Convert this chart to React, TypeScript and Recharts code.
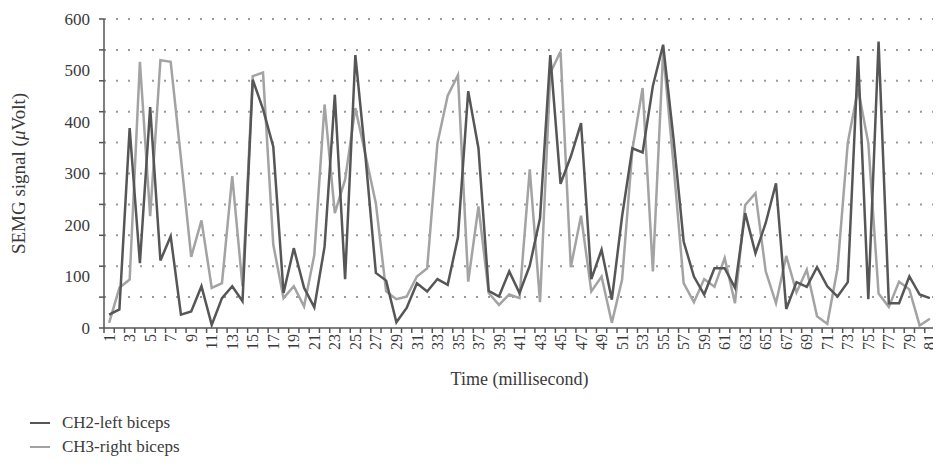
import { LineChart, Line, XAxis, YAxis, CartesianGrid, Legend } from "recharts"

const times = [
  1, 2, 3, 4, 5, 6, 7, 8, 9, 10, 11, 12, 13, 14, 15, 16, 17, 18, 19, 20,
  21, 22, 23, 24, 25, 26, 27, 28, 29, 30, 31, 32, 33, 34, 35, 36, 37, 38, 39, 40,
  41, 42, 43, 44, 45, 46, 47, 48, 49, 50, 51, 52, 53, 54, 55, 56, 57, 58, 59, 60,
  61, 62, 63, 64, 65, 66, 67, 68, 69, 70, 71, 72, 73, 74, 75, 76, 77, 78, 79, 80, 81,
]

// CH2-left biceps
const ch2 = [
  26, 36, 388, 126, 429, 131, 178, 26, 32, 81, 6, 58, 81, 52, 482, 425, 352, 68, 155, 78,
  40, 158, 453, 95, 530, 330, 107, 92, 11, 39, 87, 71, 95, 84, 176, 460, 349, 72, 61, 110,
  68, 121, 213, 530, 280, 333, 398, 95, 152, 55, 217, 349, 341, 470, 550, 370, 168, 100, 65, 116,
  116, 78, 223, 145, 204, 281, 37, 89, 80, 118, 81, 61, 89, 528, 56, 556, 48, 48, 100, 65, 58,
]

// CH3-right biceps
const ch3 = [
  10, 78, 94, 517, 217, 520, 517, 330, 138, 209, 78, 87, 295, 81, 489, 496, 162, 58, 81, 42,
  142, 434, 223, 288, 427, 335, 242, 71, 56, 61, 100, 116, 359, 451, 491, 90, 236, 68, 45, 65,
  58, 308, 50, 495, 537, 118, 218, 71, 100, 10, 94, 346, 466, 110, 537, 320, 87, 50, 95, 80,
  136, 48, 239, 262, 110, 48, 140, 69, 113, 23, 8, 116, 360, 464, 359, 67, 41, 90, 75, 5, 18,
]

const yLabels = [0, 100, 200, 300, 400, 500, 600]
const yMarks = [0, 60, 120, 180, 240, 300, 360, 420, 480, 540, 600]

const series = [
  { key: "ch2", name: "CH2-left biceps", color: "#565656" },
  { key: "ch3", name: "CH3-right biceps", color: "#a3a3a3" },
]

const data = times.map((t, i) => ({ t, ch2: ch2[i], ch3: ch3[i] }))

const yTicks = Array.from(new Set([...yMarks, ...yLabels])).sort((a, b) => a - b)
// tick marks sit between categories, labels on the odd categories
const xTicks = [...times.flatMap((t) => [t - 0.5, t]), times[times.length - 1] + 0.5]

const FONT = '"Liberation Serif", "Times New Roman", serif'
const TEXT = "#3a3a3a"
const AXIS = "#555"

function YTick({ x, y, payload }: any) {
  const v = payload.value
  return (
    <g>
      {yMarks.includes(v) && <line x1={x - 5} x2={x} y1={y} y2={y} stroke={AXIS} strokeWidth={1.5} />}
      {yLabels.includes(v) && (
        <text x={x - 14} y={y} dy="0.35em" textAnchor="end" fill={TEXT} fontSize={17} fontFamily={FONT}>
          {v}
        </text>
      )}
    </g>
  )
}

function XTick({ x, y, payload }: any) {
  const v = payload.value
  if (!Number.isInteger(v)) {
    return <line x1={x} x2={x} y1={y} y2={y + 5} stroke={AXIS} strokeWidth={1.5} />
  }
  if (v % 2 === 0) return <g />
  return (
    <text
      x={x}
      y={y + 6}
      dy="0.35em"
      textAnchor="end"
      transform={`rotate(-90, ${x}, ${y + 6})`}
      fill={TEXT}
      fontSize={16}
      fontFamily={FONT}
    >
      {v}
    </text>
  )
}

function YTitle({ viewBox }: any) {
  const cx = viewBox.x + 10
  const cy = viewBox.y + viewBox.height / 2
  return (
    <text
      x={cx}
      y={cy}
      dy="0.35em"
      textAnchor="middle"
      transform={`rotate(-90, ${cx}, ${cy})`}
      fill={TEXT}
      fontSize={19}
      fontFamily={FONT}
    >
      SEMG signal (<tspan fontStyle="italic">μ</tspan>Volt)
    </text>
  )
}

function LegendRows() {
  return (
    <div style={{ fontFamily: FONT, fontSize: 17, color: TEXT }}>
      {series.map((s) => (
        <div key={s.key} style={{ display: "flex", alignItems: "center", height: 24 }}>
          <svg width={20} height={4} style={{ marginRight: 12 }}>
            <line x1={0} x2={20} y1={2} y2={2} stroke={s.color} strokeWidth={2} />
          </svg>
          <span>{s.name}</span>
        </div>
      ))}
    </div>
  )
}

export default function App() {
  return (
    <LineChart width={933} height={459} data={data} margin={{ top: 11, right: 6, left: 0, bottom: 69 }}>
      <CartesianGrid
        vertical={false}
        horizontalValues={yMarks.filter((v) => v > 0)}
        stroke="#9a9a9a"
        strokeWidth={2}
        strokeDasharray="2 10"
      />
      <XAxis
        dataKey="t"
        type="number"
        domain={[0.5, 81.5]}
        ticks={xTicks}
        interval={0}
        tickSize={0}
        tickMargin={0}
        tickLine={false}
        tick={<XTick />}
        axisLine={{ stroke: AXIS, strokeWidth: 1.5 }}
        height={70}
        label={{
          value: "Time (millisecond)",
          position: "insideBottom",
          offset: 13,
          fill: TEXT,
          fontSize: 18,
          fontFamily: FONT,
        }}
      />
      <YAxis
        type="number"
        domain={[0, 600]}
        ticks={yTicks}
        interval={0}
        tickSize={0}
        tickMargin={0}
        tickLine={false}
        tick={<YTick />}
        axisLine={{ stroke: AXIS, strokeWidth: 1.5 }}
        width={96}
        label={<YTitle />}
      />
      <Legend
        layout="vertical"
        align="center"
        verticalAlign="middle"
        wrapperStyle={{ left: 22, top: 403, width: 220 }}
        content={<LegendRows />}
      />
      <Line
        dataKey="ch3"
        name="CH3-right biceps"
        stroke="#a3a3a3"
        strokeWidth={2.5}
        dot={false}
        isAnimationActive={false}
      />
      <Line
        dataKey="ch2"
        name="CH2-left biceps"
        stroke="#565656"
        strokeWidth={2.5}
        dot={false}
        isAnimationActive={false}
      />
    </LineChart>
  )
}
